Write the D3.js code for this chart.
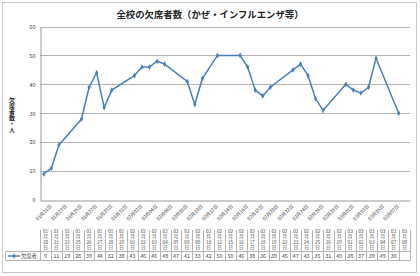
<!DOCTYPE html>
<html>
<head>
<meta charset="utf-8">
<script src="https://cdn.jsdelivr.net/npm/d3@7"></script>
<style>
  body { margin: 0; background: #fff; }
  text { font-family: "Noto Sans CJK JP", "Noto Sans", sans-serif; }
</style>
</head>
<body>
<script>
// data (school year 2016, Feb has a 29th)
var dates = ["01/20","01/21","01/22","01/25","01/26","01/27","01/28","01/29",
  "02/01","02/02","02/03","02/04","02/05","02/08","02/09","02/10","02/12",
  "02/15","02/16","02/17","02/18","02/19","02/22","02/23","02/24","02/25",
  "02/26","02/29","03/01","03/02","03/03","03/04","03/07","03/08"];
var absent = [9,11,19,28,39,44,32,38,43,46,46,48,47,41,33,42,50,50,46,38,36,39,
  45,47,43,35,31,40,38,37,39,49,30,null];
var yTicks = [0,10,20,30,40,50,60];
var title = "全校の欠席者数（かぜ・インフルエンザ等）";
var yTitle = "欠席者数・人";
var seriesName = "欠席者";

var w = 420, h = 276;
var plotLeft = 40, plotRight = 410, plotTop = 26.5, plotBottom = 200;

function toDate(s, hour) {
  var p = s.split("/");
  return new Date(2016, +p[0] - 1, +p[1], hour);
}

var svg = d3.select("body").append("svg")
  .attr("width", w)
  .attr("height", h);

// chart border
svg.append("rect")
  .attr("x", 2.5).attr("y", 2.5)
  .attr("width", 414).attr("height", 270)
  .attr("fill", "#fff")
  .attr("stroke", "#c8c8c8");

// title
svg.append("text")
  .attr("x", 210).attr("y", 17.5)
  .attr("text-anchor", "middle")
  .attr("font-size", 9.4)
  .attr("font-weight", "bold")
  .attr("fill", "#222")
  .text(title);

// scales: date axis, one slot per day
var xScale = d3.scaleTime()
  .domain([toDate(dates[0], 0), d3.timeDay.offset(toDate(dates[dates.length - 1], 0), 1)])
  .range([plotLeft, plotRight]);

var yScale = d3.scaleLinear()
  .domain([0, 60])
  .range([plotBottom, plotTop]);

// gridlines
svg.append("g")
  .selectAll("line")
  .data(yTicks.slice(1))
  .enter().append("line")
  .attr("x1", plotLeft).attr("x2", plotRight)
  .attr("y1", function(d) { return Math.round(yScale(d)) + 0.5; })
  .attr("y2", function(d) { return Math.round(yScale(d)) + 0.5; })
  .attr("stroke", "#b4b4b4");

// y axis
var yAxis = svg.append("g")
  .attr("transform", "translate(" + (plotLeft + 0.5) + ",0)")
  .call(d3.axisLeft(yScale).tickValues(yTicks).tickSize(0).tickPadding(5));
yAxis.select(".domain").attr("stroke", "#999");
yAxis.selectAll("text").attr("font-size", 5.5).attr("fill", "#444");

// y axis title, written vertically
svg.append("text")
  .attr("x", 12).attr("y", 97)
  .attr("font-size", 5.9)
  .attr("font-weight", "bold")
  .attr("fill", "#222")
  .style("writing-mode", "vertical-rl")
  .style("text-orientation", "upright")
  .text(yTitle);

// x axis, label every second day
var tickDates = d3.timeDay.range(toDate(dates[0], 12), toDate(dates[dates.length - 1], 13), 2);
var xAxis = svg.append("g")
  .attr("transform", "translate(0," + (plotBottom + 0.5) + ")")
  .call(d3.axisBottom(xScale).tickValues(tickDates).tickSize(0).tickFormat(d3.timeFormat("%m月%d日")));
xAxis.select(".domain").attr("stroke", "#999");
xAxis.selectAll("text")
  .attr("font-size", 4.8)
  .attr("fill", "#444")
  .attr("text-anchor", "end")
  .attr("dy", 0)
  .attr("transform", "translate(2,4) rotate(-45)");

// line + markers
var points = [];
for (var i = 0; i < dates.length; i++) {
  if (absent[i] != null) points.push({ date: toDate(dates[i], 12), value: absent[i] });
}

var line = d3.line()
  .x(function(d) { return xScale(d.date); })
  .y(function(d) { return yScale(d.value); });

svg.append("path")
  .datum(points)
  .attr("d", line)
  .attr("fill", "none")
  .attr("stroke", "#4a7ebb")
  .attr("stroke-width", 1.5);

var diamond = d3.symbol().type(d3.symbolDiamond).size(9);
svg.selectAll(".marker")
  .data(points)
  .enter().append("path")
  .attr("class", "marker")
  .attr("d", diamond)
  .attr("transform", function(d) { return "translate(" + xScale(d.date) + "," + yScale(d.value) + ")"; })
  .attr("fill", "#4a7ebb");

// data table
var colScale = d3.scaleBand()
  .domain(d3.range(dates.length))
  .range([plotLeft, plotRight]);
var cw = colScale.bandwidth();
var tableTop = 230, rowTop = 251.5, rowBottom = 260.5;

var table = svg.append("g");

table.selectAll(".vline")
  .data(d3.range(dates.length + 1))
  .enter().append("line")
  .attr("x1", function(d) { return Math.round(plotLeft + d * cw) + 0.5; })
  .attr("x2", function(d) { return Math.round(plotLeft + d * cw) + 0.5; })
  .attr("y1", tableTop)
  .attr("y2", rowBottom)
  .attr("stroke", "#b4b4b4");

table.selectAll(".hline")
  .data([rowTop, rowBottom])
  .enter().append("line")
  .attr("x1", 5.5).attr("x2", plotRight + 0.5)
  .attr("y1", function(d) { return d; })
  .attr("y2", function(d) { return d; })
  .attr("stroke", "#b4b4b4");

table.append("line")
  .attr("x1", 5.5).attr("x2", 5.5)
  .attr("y1", rowTop).attr("y2", rowBottom)
  .attr("stroke", "#b4b4b4");

// header cells: month / 月 / day / 日
var headRows = [232.8, 238.3, 243.8, 249.2];
dates.forEach(function(s, i) {
  var p = s.split("/");
  var parts = [p[0], "月", p[1], "日"];
  var cx = colScale(i) + cw / 2;
  parts.forEach(function(t, j) {
    table.append("text")
      .attr("x", cx).attr("y", headRows[j])
      .attr("text-anchor", "middle")
      .attr("font-size", 4.6)
      .attr("fill", "#444")
      .text(t);
  });
});

// value cells
table.selectAll(".val")
  .data(absent)
  .enter().append("text")
  .attr("x", function(d, i) { return colScale(i) + cw / 2; })
  .attr("y", 258.3)
  .attr("text-anchor", "middle")
  .attr("font-size", 5.3)
  .attr("fill", "#444")
  .text(function(d) { return d == null ? "" : d; });

// legend key in the table
table.append("line")
  .attr("x1", 8).attr("x2", 20)
  .attr("y1", 256).attr("y2", 256)
  .attr("stroke", "#4a7ebb")
  .attr("stroke-width", 1.4);
table.append("path")
  .attr("d", diamond)
  .attr("transform", "translate(14,256)")
  .attr("fill", "#4a7ebb");
table.append("text")
  .attr("x", 21).attr("y", 258.3)
  .attr("font-size", 5.3)
  .attr("fill", "#444")
  .text(seriesName);
</script>
</body>
</html>
